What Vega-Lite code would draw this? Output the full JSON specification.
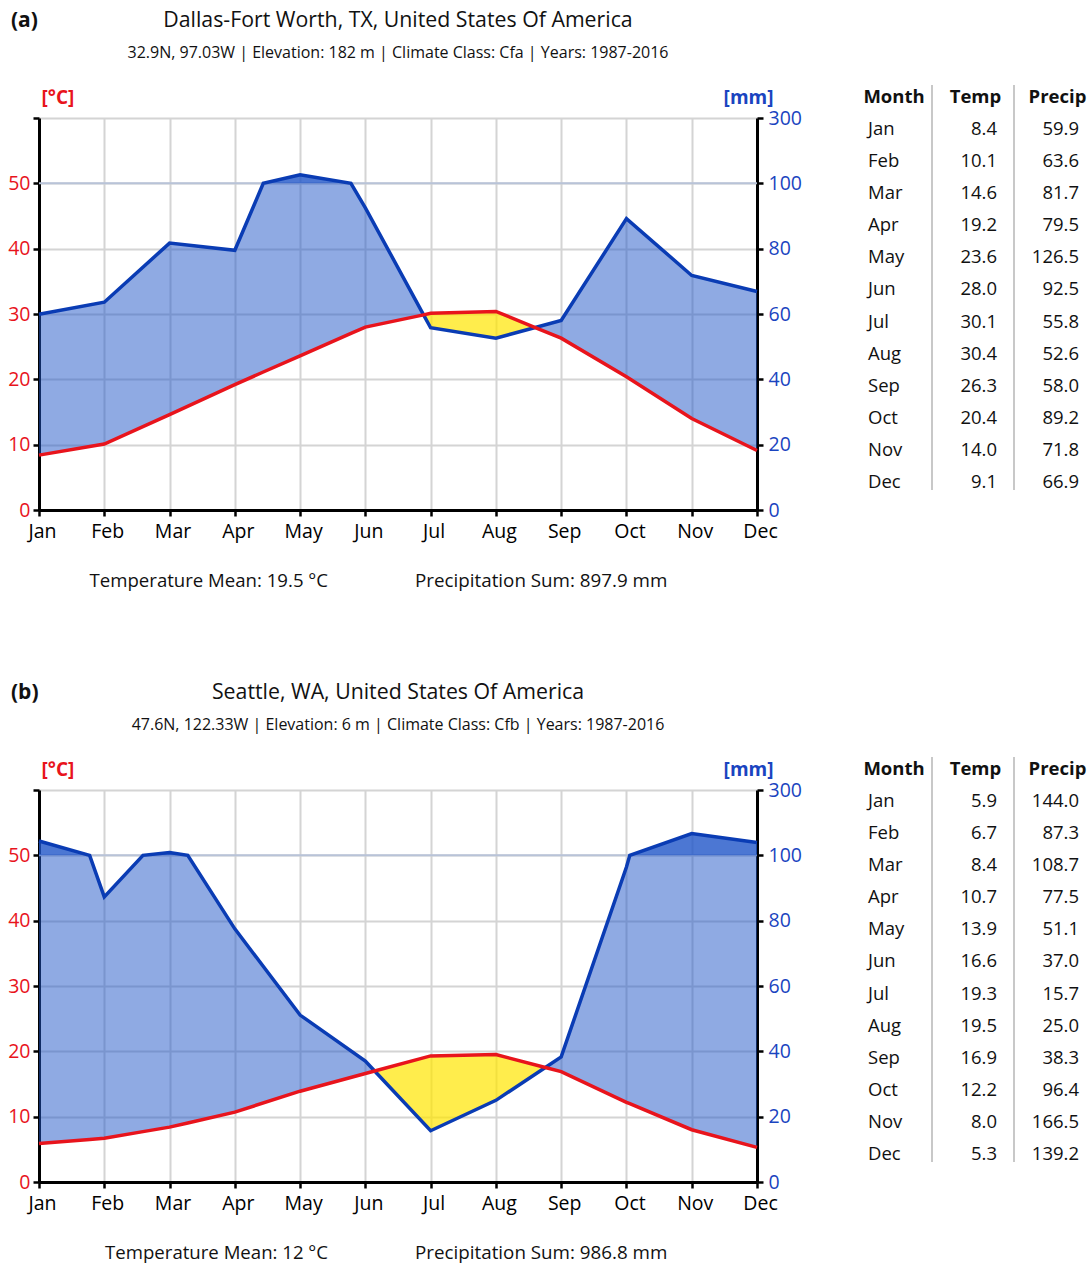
{
  "$schema": "https://vega.github.io/schema/vega-lite/v6.json",
  "background": "white",
  "padding": {"left": 7, "top": 9, "right": 0, "bottom": 5},
  "config": {
    "font": "Open Sans",
    "view": {"stroke": null},
    "axis": {"domainColor": "black", "domainWidth": 3, "tickColor": "black", "tickWidth": 2.5, "tickSize": 6, "labelFontSize": 19.5, "gridColor": "#d4d4d4", "gridWidth": 2}
  },
  "datasets": {
    "dal": [
      {"m": 1, "mon": "Jan", "t": 8.4, "p": 59.9},
      {"m": 2, "mon": "Feb", "t": 10.1, "p": 63.6},
      {"m": 3, "mon": "Mar", "t": 14.6, "p": 81.7},
      {"m": 4, "mon": "Apr", "t": 19.2, "p": 79.5},
      {"m": 4.436, "t": 21.12, "p": 100},
      {"m": 5, "mon": "May", "t": 23.6, "p": 126.5},
      {"m": 5.779, "t": 27.03, "p": 100},
      {"m": 6, "mon": "Jun", "t": 28.0, "p": 92.5},
      {"m": 6.892, "t": 29.87, "p": 59.75},
      {"m": 7, "mon": "Jul", "t": 30.1, "p": 55.8},
      {"m": 8, "mon": "Aug", "t": 30.4, "p": 52.6},
      {"m": 8.603, "t": 27.93, "p": 55.86},
      {"m": 9, "mon": "Sep", "t": 26.3, "p": 58.0},
      {"m": 10, "mon": "Oct", "t": 20.4, "p": 89.2},
      {"m": 11, "mon": "Nov", "t": 14.0, "p": 71.8},
      {"m": 12, "mon": "Dec", "t": 9.1, "p": 66.9}
    ],
    "sea": [
      {"m": 1, "mon": "Jan", "t": 5.9, "p": 144.0},
      {"m": 1.776, "t": 6.52, "p": 100},
      {"m": 2, "mon": "Feb", "t": 6.7, "p": 87.3},
      {"m": 2.593, "t": 7.71, "p": 100},
      {"m": 3, "mon": "Mar", "t": 8.4, "p": 108.7},
      {"m": 3.279, "t": 9.04, "p": 100},
      {"m": 4, "mon": "Apr", "t": 10.7, "p": 77.5},
      {"m": 5, "mon": "May", "t": 13.9, "p": 51.1},
      {"m": 6, "mon": "Jun", "t": 16.6, "p": 37.0},
      {"m": 6.142, "t": 16.98, "p": 33.97},
      {"m": 7, "mon": "Jul", "t": 19.3, "p": 15.7},
      {"m": 8, "mon": "Aug", "t": 19.5, "p": 25.0},
      {"m": 8.757, "t": 17.53, "p": 35.07},
      {"m": 9, "mon": "Sep", "t": 16.9, "p": 38.3},
      {"m": 10, "mon": "Oct", "t": 12.2, "p": 96.4},
      {"m": 10.051, "t": 11.98, "p": 100},
      {"m": 11, "mon": "Nov", "t": 8.0, "p": 166.5},
      {"m": 12, "mon": "Dec", "t": 5.3, "p": 139.2}
    ]
  },
  "columns": 2,
  "bounds": "flush",
  "spacing": {"row": 280, "column": 93},
  "concat": [
    {
      "width": 718, "height": 392,
      "data": {"name": "dal"},
      "transform": [
        {"calculate": "datum.p <= 100 ? datum.p / 2 : 50 + (datum.p - 100) / 20", "as": "ps"},
        {"calculate": "max(datum.t, min(datum.ps, 50))", "as": "bhi"},
        {"calculate": "max(datum.ps, datum.t)", "as": "yhi"},
        {"calculate": "max(50, datum.ps)", "as": "dhi"},
        {"calculate": "50", "as": "c50"}
      ],
      "layer": [
        {"mark": {"type": "rule", "color": "#b8c3d8", "strokeWidth": 2},
         "encoding": {
           "x": {"field": "m", "type": "quantitative", "aggregate": "min", "scale": {"domain": [1, 12], "nice": false, "zero": false}},
           "x2": {"field": "m", "aggregate": "max"},
           "y": {"field": "c50", "type": "quantitative", "aggregate": "min", "scale": {"domain": [0, 60], "nice": false, "zero": false},
                 "axis": {"orient": "left", "values": [0,10,20,30,40,50,60], "labelExpr": "datum.value == 60 ? '' : datum.label", "labelColor": "#e8141c", "labelPadding": 3, "grid": true, "title": "[°C]", "titleColor": "#e8141c", "titleAngle": 0, "titleAlign": "left", "titleBaseline": "alphabetic", "titleX": 2, "titleY": -15, "titleFontSize": 19, "titleFontWeight": "bold"}}
         }},
        {"mark": {"type": "area", "color": "#1f55c8", "opacity": 0.5},
         "encoding": {
           "x": {"field": "m", "type": "quantitative", "scale": {"domain": [1, 12], "nice": false, "zero": false},
                 "axis": {"values": [1,2,3,4,5,6,7,8,9,10,11,12], "labelExpr": "['Jan','Feb','Mar','Apr','May','Jun','Jul','Aug','Sep','Oct','Nov','Dec'][datum.value - 1]", "title": null, "grid": true, "labelColor": "black", "labelPadding": 6, "labelOffset": 3, "labelFlush": false, "labelOverlap": false}},
           "y": {"field": "t", "type": "quantitative", "scale": {"domain": [0, 60], "nice": false, "zero": false}, "axis": null},
           "y2": {"field": "bhi"}
         }},
        {"mark": {"type": "area", "color": "#1f55c8", "opacity": 0.8},
         "encoding": {
           "x": {"field": "m", "type": "quantitative", "scale": {"domain": [1, 12], "nice": false, "zero": false}},
           "y": {"field": "c50", "type": "quantitative", "scale": {"domain": [0, 60], "nice": false, "zero": false}, "axis": null},
           "y2": {"field": "dhi"}
         }},
        {"mark": {"type": "area", "color": "#ffe600", "opacity": 0.7},
         "encoding": {
           "x": {"field": "m", "type": "quantitative", "scale": {"domain": [1, 12], "nice": false, "zero": false}},
           "y": {"field": "ps", "type": "quantitative", "scale": {"domain": [0, 60], "nice": false, "zero": false}, "axis": null},
           "y2": {"field": "yhi"}
         }},
        {"mark": {"type": "line", "color": "#0a3cb4", "strokeWidth": 3.5},
         "encoding": {
           "x": {"field": "m", "type": "quantitative", "scale": {"domain": [1, 12], "nice": false, "zero": false}},
           "y": {"field": "ps", "type": "quantitative", "scale": {"domain": [0, 60], "nice": false, "zero": false}, "axis": null}
         }},
        {"mark": {"type": "line", "color": "#e8141c", "strokeWidth": 3.5},
         "encoding": {
           "x": {"field": "m", "type": "quantitative", "scale": {"domain": [1, 12], "nice": false, "zero": false}},
           "y": {"field": "t", "type": "quantitative", "scale": {"domain": [0, 60], "nice": false, "zero": false}, "axis": null}
         }},
        {"data": {"values": [{}]}, "mark": {"type": "text", "align": "center", "baseline": "alphabetic", "fontSize": 21.3, "color": "#111"},
         "encoding": {"x": {"datum": 6.5, "type": "quantitative", "scale": {"domain": [1, 12], "nice": false, "zero": false}},
                      "y": {"datum": 73.93, "type": "quantitative", "scale": {"domain": [0, 60], "nice": false, "zero": false}, "axis": null},
                      "text": {"value": "Dallas-Fort Worth, TX, United States Of America"}}},
        {"data": {"values": [{}]}, "mark": {"type": "text", "align": "center", "baseline": "alphabetic", "fontSize": 16, "color": "#111"},
         "encoding": {"x": {"datum": 6.5, "type": "quantitative", "scale": {"domain": [1, 12], "nice": false, "zero": false}},
                      "y": {"datum": 69.18, "type": "quantitative", "scale": {"domain": [0, 60], "nice": false, "zero": false}, "axis": null},
                      "text": {"value": "32.9N, 97.03W | Elevation: 182 m | Climate Class: Cfa | Years: 1987-2016"}}},
        {"data": {"values": [{}]}, "mark": {"type": "text", "align": "left", "baseline": "alphabetic", "fontSize": 21, "fontWeight": "bold", "color": "#111"},
         "encoding": {"x": {"datum": 0.571, "type": "quantitative", "scale": {"domain": [1, 12], "nice": false, "zero": false}},
                      "y": {"datum": 73.93, "type": "quantitative", "scale": {"domain": [0, 60], "nice": false, "zero": false}, "axis": null},
                      "text": {"value": "(a)"}}},
        {"data": {"values": [{}]}, "mark": {"type": "text", "align": "right", "baseline": "alphabetic", "fontSize": 18.6, "color": "#111"},
         "encoding": {"x": {"datum": 5.428, "type": "quantitative", "scale": {"domain": [1, 12], "nice": false, "zero": false}},
                      "y": {"datum": -11.71, "type": "quantitative", "scale": {"domain": [0, 60], "nice": false, "zero": false}, "axis": null},
                      "text": {"value": "Temperature Mean: 19.5 °C"}}},
        {"data": {"values": [{}]}, "mark": {"type": "text", "align": "left", "baseline": "alphabetic", "fontSize": 18.8, "color": "#111"},
         "encoding": {"x": {"datum": 6.761, "type": "quantitative", "scale": {"domain": [1, 12], "nice": false, "zero": false}},
                      "y": {"datum": -11.71, "type": "quantitative", "scale": {"domain": [0, 60], "nice": false, "zero": false}, "axis": null},
                      "text": {"value": "Precipitation Sum: 897.9 mm"}}},
        {"mark": {"type": "point", "opacity": 0},
         "encoding": {
           "x": {"field": "m", "type": "quantitative", "scale": {"domain": [1, 12], "nice": false, "zero": false}},
           "y": {"field": "t", "type": "quantitative", "scale": {"domain": [0, 60], "nice": false, "zero": false},
                 "axis": {"orient": "right", "values": [0,10,20,30,40,50,60], "labelExpr": "datum.value <= 50 ? format(datum.value * 2, 'd') : '300'", "labelColor": "#1a44c0", "labelPadding": 5, "grid": false, "title": "[mm]", "titleColor": "#1a44c0", "titleAngle": 0, "titleAlign": "right", "titleBaseline": "alphabetic", "titleX": 16, "titleY": -15, "titleFontSize": 19, "titleFontWeight": "bold"}}
         }}
      ],
      "resolve": {"scale": {"y": "independent"}}
    },
    {
      "width": 246, "height": 392,
      "layer": [
        {"data": {"values": [{}]}, "mark": {"type": "rule", "color": "#c8c8c8", "strokeWidth": 2},
         "encoding": {"x": {"datum": 1, "type": "quantitative", "scale": {"domain": [0, 3], "nice": false, "zero": false}, "axis": null},
                      "y": {"datum": -0.37, "type": "quantitative", "scale": {"domain": [0.657, 12.873], "nice": false, "zero": false, "reverse": true}, "axis": null},
                      "y2": {"datum": 12.25}}},
        {"data": {"values": [{}]}, "mark": {"type": "rule", "color": "#c8c8c8", "strokeWidth": 2},
         "encoding": {"x": {"datum": 2, "type": "quantitative", "scale": {"domain": [0, 3], "nice": false, "zero": false}, "axis": null},
                      "y": {"datum": -0.37, "type": "quantitative", "scale": {"domain": [0.657, 12.873], "nice": false, "zero": false, "reverse": true}, "axis": null},
                      "y2": {"datum": 12.25}}},
        {"data": {"values": [{}]}, "mark": {"type": "text", "align": "center", "baseline": "middle", "fontSize": 18.5, "fontWeight": "bold", "color": "#111"},
         "encoding": {"x": {"datum": 0.537, "type": "quantitative", "scale": {"domain": [0, 3], "nice": false, "zero": false}, "axis": null},
                      "y": {"datum": 0, "type": "quantitative", "scale": {"domain": [0.657, 12.873], "nice": false, "zero": false, "reverse": true}, "axis": null},
                      "text": {"value": "Month"}}},
        {"data": {"values": [{}]}, "mark": {"type": "text", "align": "center", "baseline": "middle", "fontSize": 18.5, "fontWeight": "bold", "color": "#111"},
         "encoding": {"x": {"datum": 1.53, "type": "quantitative", "scale": {"domain": [0, 3], "nice": false, "zero": false}, "axis": null},
                      "y": {"datum": 0, "type": "quantitative", "scale": {"domain": [0.657, 12.873], "nice": false, "zero": false, "reverse": true}, "axis": null},
                      "text": {"value": "Temp"}}},
        {"data": {"values": [{}]}, "mark": {"type": "text", "align": "center", "baseline": "middle", "fontSize": 18.5, "fontWeight": "bold", "color": "#111"},
         "encoding": {"x": {"datum": 2.53, "type": "quantitative", "scale": {"domain": [0, 3], "nice": false, "zero": false}, "axis": null},
                      "y": {"datum": 0, "type": "quantitative", "scale": {"domain": [0.657, 12.873], "nice": false, "zero": false, "reverse": true}, "axis": null},
                      "text": {"value": "Precip"}}},
        {"data": {"name": "dal"}, "transform": [{"filter": "isValid(datum.mon)"}],
         "mark": {"type": "text", "align": "left", "baseline": "middle", "fontSize": 18.5, "color": "#111"},
         "encoding": {"x": {"datum": 0.22, "type": "quantitative", "scale": {"domain": [0, 3], "nice": false, "zero": false}, "axis": null},
                      "y": {"field": "m", "type": "quantitative", "scale": {"domain": [0.657, 12.873], "nice": false, "zero": false, "reverse": true}, "axis": null},
                      "text": {"field": "mon"}}},
        {"data": {"name": "dal"}, "transform": [{"filter": "isValid(datum.mon)"}],
         "mark": {"type": "text", "align": "right", "baseline": "middle", "fontSize": 18.5, "color": "#111"},
         "encoding": {"x": {"datum": 1.793, "type": "quantitative", "scale": {"domain": [0, 3], "nice": false, "zero": false}, "axis": null},
                      "y": {"field": "m", "type": "quantitative", "scale": {"domain": [0.657, 12.873], "nice": false, "zero": false, "reverse": true}, "axis": null},
                      "text": {"field": "t", "format": ".1f"}}},
        {"data": {"name": "dal"}, "transform": [{"filter": "isValid(datum.mon)"}],
         "mark": {"type": "text", "align": "right", "baseline": "middle", "fontSize": 18.5, "color": "#111"},
         "encoding": {"x": {"datum": 2.793, "type": "quantitative", "scale": {"domain": [0, 3], "nice": false, "zero": false}, "axis": null},
                      "y": {"field": "m", "type": "quantitative", "scale": {"domain": [0.657, 12.873], "nice": false, "zero": false, "reverse": true}, "axis": null},
                      "text": {"field": "p", "format": ".1f"}}}
      ]
    },
    {
      "width": 718, "height": 392,
      "data": {"name": "sea"},
      "transform": [
        {"calculate": "datum.p <= 100 ? datum.p / 2 : 50 + (datum.p - 100) / 20", "as": "ps"},
        {"calculate": "max(datum.t, min(datum.ps, 50))", "as": "bhi"},
        {"calculate": "max(datum.ps, datum.t)", "as": "yhi"},
        {"calculate": "max(50, datum.ps)", "as": "dhi"},
        {"calculate": "50", "as": "c50"}
      ],
      "layer": [
        {"mark": {"type": "rule", "color": "#b8c3d8", "strokeWidth": 2},
         "encoding": {
           "x": {"field": "m", "type": "quantitative", "aggregate": "min", "scale": {"domain": [1, 12], "nice": false, "zero": false}},
           "x2": {"field": "m", "aggregate": "max"},
           "y": {"field": "c50", "type": "quantitative", "aggregate": "min", "scale": {"domain": [0, 60], "nice": false, "zero": false},
                 "axis": {"orient": "left", "values": [0,10,20,30,40,50,60], "labelExpr": "datum.value == 60 ? '' : datum.label", "labelColor": "#e8141c", "labelPadding": 3, "grid": true, "title": "[°C]", "titleColor": "#e8141c", "titleAngle": 0, "titleAlign": "left", "titleBaseline": "alphabetic", "titleX": 2, "titleY": -15, "titleFontSize": 19, "titleFontWeight": "bold"}}
         }},
        {"mark": {"type": "area", "color": "#1f55c8", "opacity": 0.5},
         "encoding": {
           "x": {"field": "m", "type": "quantitative", "scale": {"domain": [1, 12], "nice": false, "zero": false},
                 "axis": {"values": [1,2,3,4,5,6,7,8,9,10,11,12], "labelExpr": "['Jan','Feb','Mar','Apr','May','Jun','Jul','Aug','Sep','Oct','Nov','Dec'][datum.value - 1]", "title": null, "grid": true, "labelColor": "black", "labelPadding": 6, "labelOffset": 3, "labelFlush": false, "labelOverlap": false}},
           "y": {"field": "t", "type": "quantitative", "scale": {"domain": [0, 60], "nice": false, "zero": false}, "axis": null},
           "y2": {"field": "bhi"}
         }},
        {"mark": {"type": "area", "color": "#1f55c8", "opacity": 0.8},
         "encoding": {
           "x": {"field": "m", "type": "quantitative", "scale": {"domain": [1, 12], "nice": false, "zero": false}},
           "y": {"field": "c50", "type": "quantitative", "scale": {"domain": [0, 60], "nice": false, "zero": false}, "axis": null},
           "y2": {"field": "dhi"}
         }},
        {"mark": {"type": "area", "color": "#ffe600", "opacity": 0.7},
         "encoding": {
           "x": {"field": "m", "type": "quantitative", "scale": {"domain": [1, 12], "nice": false, "zero": false}},
           "y": {"field": "ps", "type": "quantitative", "scale": {"domain": [0, 60], "nice": false, "zero": false}, "axis": null},
           "y2": {"field": "yhi"}
         }},
        {"mark": {"type": "line", "color": "#0a3cb4", "strokeWidth": 3.5},
         "encoding": {
           "x": {"field": "m", "type": "quantitative", "scale": {"domain": [1, 12], "nice": false, "zero": false}},
           "y": {"field": "ps", "type": "quantitative", "scale": {"domain": [0, 60], "nice": false, "zero": false}, "axis": null}
         }},
        {"mark": {"type": "line", "color": "#e8141c", "strokeWidth": 3.5},
         "encoding": {
           "x": {"field": "m", "type": "quantitative", "scale": {"domain": [1, 12], "nice": false, "zero": false}},
           "y": {"field": "t", "type": "quantitative", "scale": {"domain": [0, 60], "nice": false, "zero": false}, "axis": null}
         }},
        {"data": {"values": [{}]}, "mark": {"type": "text", "align": "center", "baseline": "alphabetic", "fontSize": 21.3, "color": "#111"},
         "encoding": {"x": {"datum": 6.5, "type": "quantitative", "scale": {"domain": [1, 12], "nice": false, "zero": false}},
                      "y": {"datum": 73.93, "type": "quantitative", "scale": {"domain": [0, 60], "nice": false, "zero": false}, "axis": null},
                      "text": {"value": "Seattle, WA, United States Of America"}}},
        {"data": {"values": [{}]}, "mark": {"type": "text", "align": "center", "baseline": "alphabetic", "fontSize": 16, "color": "#111"},
         "encoding": {"x": {"datum": 6.5, "type": "quantitative", "scale": {"domain": [1, 12], "nice": false, "zero": false}},
                      "y": {"datum": 69.18, "type": "quantitative", "scale": {"domain": [0, 60], "nice": false, "zero": false}, "axis": null},
                      "text": {"value": "47.6N, 122.33W | Elevation: 6 m | Climate Class: Cfb | Years: 1987-2016"}}},
        {"data": {"values": [{}]}, "mark": {"type": "text", "align": "left", "baseline": "alphabetic", "fontSize": 21, "fontWeight": "bold", "color": "#111"},
         "encoding": {"x": {"datum": 0.571, "type": "quantitative", "scale": {"domain": [1, 12], "nice": false, "zero": false}},
                      "y": {"datum": 73.93, "type": "quantitative", "scale": {"domain": [0, 60], "nice": false, "zero": false}, "axis": null},
                      "text": {"value": "(b)"}}},
        {"data": {"values": [{}]}, "mark": {"type": "text", "align": "right", "baseline": "alphabetic", "fontSize": 18.6, "color": "#111"},
         "encoding": {"x": {"datum": 5.428, "type": "quantitative", "scale": {"domain": [1, 12], "nice": false, "zero": false}},
                      "y": {"datum": -11.71, "type": "quantitative", "scale": {"domain": [0, 60], "nice": false, "zero": false}, "axis": null},
                      "text": {"value": "Temperature Mean: 12 °C"}}},
        {"data": {"values": [{}]}, "mark": {"type": "text", "align": "left", "baseline": "alphabetic", "fontSize": 18.8, "color": "#111"},
         "encoding": {"x": {"datum": 6.761, "type": "quantitative", "scale": {"domain": [1, 12], "nice": false, "zero": false}},
                      "y": {"datum": -11.71, "type": "quantitative", "scale": {"domain": [0, 60], "nice": false, "zero": false}, "axis": null},
                      "text": {"value": "Precipitation Sum: 986.8 mm"}}},
        {"mark": {"type": "point", "opacity": 0},
         "encoding": {
           "x": {"field": "m", "type": "quantitative", "scale": {"domain": [1, 12], "nice": false, "zero": false}},
           "y": {"field": "t", "type": "quantitative", "scale": {"domain": [0, 60], "nice": false, "zero": false},
                 "axis": {"orient": "right", "values": [0,10,20,30,40,50,60], "labelExpr": "datum.value <= 50 ? format(datum.value * 2, 'd') : '300'", "labelColor": "#1a44c0", "labelPadding": 5, "grid": false, "title": "[mm]", "titleColor": "#1a44c0", "titleAngle": 0, "titleAlign": "right", "titleBaseline": "alphabetic", "titleX": 16, "titleY": -15, "titleFontSize": 19, "titleFontWeight": "bold"}}
         }}
      ],
      "resolve": {"scale": {"y": "independent"}}
    },
    {
      "width": 246, "height": 392,
      "layer": [
        {"data": {"values": [{}]}, "mark": {"type": "rule", "color": "#c8c8c8", "strokeWidth": 2},
         "encoding": {"x": {"datum": 1, "type": "quantitative", "scale": {"domain": [0, 3], "nice": false, "zero": false}, "axis": null},
                      "y": {"datum": -0.37, "type": "quantitative", "scale": {"domain": [0.657, 12.873], "nice": false, "zero": false, "reverse": true}, "axis": null},
                      "y2": {"datum": 12.25}}},
        {"data": {"values": [{}]}, "mark": {"type": "rule", "color": "#c8c8c8", "strokeWidth": 2},
         "encoding": {"x": {"datum": 2, "type": "quantitative", "scale": {"domain": [0, 3], "nice": false, "zero": false}, "axis": null},
                      "y": {"datum": -0.37, "type": "quantitative", "scale": {"domain": [0.657, 12.873], "nice": false, "zero": false, "reverse": true}, "axis": null},
                      "y2": {"datum": 12.25}}},
        {"data": {"values": [{}]}, "mark": {"type": "text", "align": "center", "baseline": "middle", "fontSize": 18.5, "fontWeight": "bold", "color": "#111"},
         "encoding": {"x": {"datum": 0.537, "type": "quantitative", "scale": {"domain": [0, 3], "nice": false, "zero": false}, "axis": null},
                      "y": {"datum": 0, "type": "quantitative", "scale": {"domain": [0.657, 12.873], "nice": false, "zero": false, "reverse": true}, "axis": null},
                      "text": {"value": "Month"}}},
        {"data": {"values": [{}]}, "mark": {"type": "text", "align": "center", "baseline": "middle", "fontSize": 18.5, "fontWeight": "bold", "color": "#111"},
         "encoding": {"x": {"datum": 1.53, "type": "quantitative", "scale": {"domain": [0, 3], "nice": false, "zero": false}, "axis": null},
                      "y": {"datum": 0, "type": "quantitative", "scale": {"domain": [0.657, 12.873], "nice": false, "zero": false, "reverse": true}, "axis": null},
                      "text": {"value": "Temp"}}},
        {"data": {"values": [{}]}, "mark": {"type": "text", "align": "center", "baseline": "middle", "fontSize": 18.5, "fontWeight": "bold", "color": "#111"},
         "encoding": {"x": {"datum": 2.53, "type": "quantitative", "scale": {"domain": [0, 3], "nice": false, "zero": false}, "axis": null},
                      "y": {"datum": 0, "type": "quantitative", "scale": {"domain": [0.657, 12.873], "nice": false, "zero": false, "reverse": true}, "axis": null},
                      "text": {"value": "Precip"}}},
        {"data": {"name": "sea"}, "transform": [{"filter": "isValid(datum.mon)"}],
         "mark": {"type": "text", "align": "left", "baseline": "middle", "fontSize": 18.5, "color": "#111"},
         "encoding": {"x": {"datum": 0.22, "type": "quantitative", "scale": {"domain": [0, 3], "nice": false, "zero": false}, "axis": null},
                      "y": {"field": "m", "type": "quantitative", "scale": {"domain": [0.657, 12.873], "nice": false, "zero": false, "reverse": true}, "axis": null},
                      "text": {"field": "mon"}}},
        {"data": {"name": "sea"}, "transform": [{"filter": "isValid(datum.mon)"}],
         "mark": {"type": "text", "align": "right", "baseline": "middle", "fontSize": 18.5, "color": "#111"},
         "encoding": {"x": {"datum": 1.793, "type": "quantitative", "scale": {"domain": [0, 3], "nice": false, "zero": false}, "axis": null},
                      "y": {"field": "m", "type": "quantitative", "scale": {"domain": [0.657, 12.873], "nice": false, "zero": false, "reverse": true}, "axis": null},
                      "text": {"field": "t", "format": ".1f"}}},
        {"data": {"name": "sea"}, "transform": [{"filter": "isValid(datum.mon)"}],
         "mark": {"type": "text", "align": "right", "baseline": "middle", "fontSize": 18.5, "color": "#111"},
         "encoding": {"x": {"datum": 2.793, "type": "quantitative", "scale": {"domain": [0, 3], "nice": false, "zero": false}, "axis": null},
                      "y": {"field": "m", "type": "quantitative", "scale": {"domain": [0.657, 12.873], "nice": false, "zero": false, "reverse": true}, "axis": null},
                      "text": {"field": "p", "format": ".1f"}}}
      ]
    }
  ]
}
